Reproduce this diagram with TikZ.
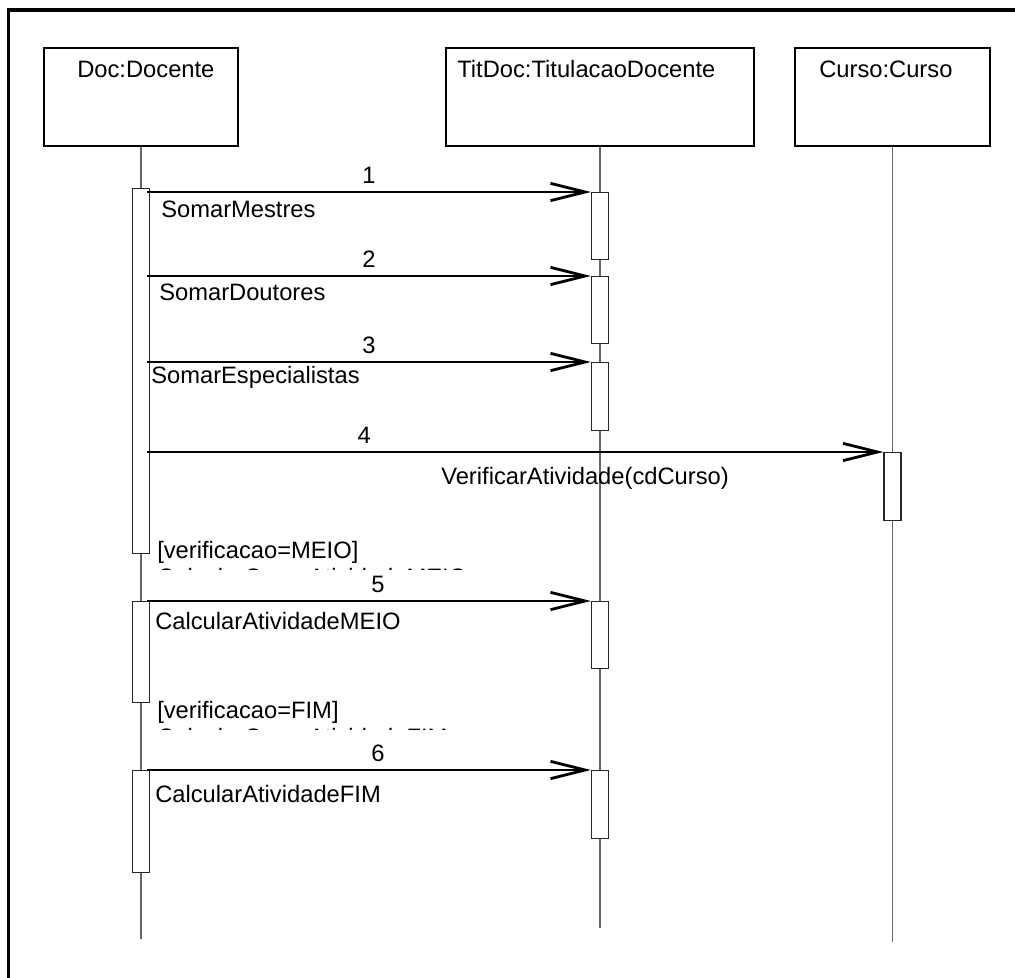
\documentclass[tikz,border=0pt]{standalone}
\usepackage{fontspec}
\setmainfont{Liberation Sans}
\usetikzlibrary{arrows.meta}
\begin{document}
\begin{tikzpicture}[x=0.75pt,y=-0.75pt,
  every node/.style={font=\fontsize{17.8pt}{21pt}\selectfont, inner sep=0pt},
  headbox/.style={draw=black, line width=0.8pt, fill=white, minimum height=73.5pt},
  actbar/.style={draw=black!85, line width=0.8pt, fill=white, minimum width=12.75pt, anchor=north},
  life/.style={draw=black!60, line width=1.1pt},
  msg/.style={draw=black, line width=1.5pt,
    -{Straight Barb[length=26pt, width=13pt, line width=2.1pt]}},
  txt/.style={anchor=base west},
  num/.style={anchor=base, yshift=6.75pt},
  frame/.style={draw=black, line width=2.4pt}]
\useasboundingbox (0,0) rectangle (1015,978);
\fill[white] (0,0) rectangle (1015,978);
% outer frame (only left and top edges fall inside the sheet)
\draw[frame] (8.5,990) -- (8.5,10) -- (1030,10);

% object heads
\node[headbox, minimum width=145.5pt] (doc) at (141,97) {};
\node[headbox, minimum width=231pt] (tit) at (600,97) {};
\node[headbox, minimum width=146.25pt] (cur) at (892.5,97) {};
\node[txt] (docname) at (77,77) {Doc:Docente};
\node[txt] (titname) at (457,77) {TitDoc:TitulacaoDocente};
\node[txt] (curname) at (819,77) {Curso:Curso};

% lifelines
\coordinate (docend) at (141,939);
\coordinate (titend) at (600,928);
\coordinate (curend) at (892.5,942);
\draw[life] (doc.south) -- (docend);
\draw[life] (tit.south) -- (titend);
\draw[life] (cur.south) -- (curend);

% activation bars
\node[actbar, minimum height={365*0.75pt}] (dbar1) at (141,188) {};
\node[actbar, minimum height={101*0.75pt}] (dbar2) at (141,601) {};
\node[actbar, minimum height={102*0.75pt}] (dbar3) at (141,770) {};
\node[actbar, minimum height={67*0.75pt}] (tbar1) at (600,192) {};
\node[actbar, minimum height={67*0.75pt}] (tbar2) at (600,276) {};
\node[actbar, minimum height={68*0.75pt}] (tbar3) at (600,362) {};
\node[actbar, minimum height={67*0.75pt}] (tbar4) at (600,601) {};
\node[actbar, minimum height={68*0.75pt}] (tbar5) at (600,770) {};
\node[actbar, minimum height={68*0.75pt}] (cbar) at (892.5,452) {};

% messages
\draw[msg] ([xshift=-2.25pt]tbar1.north west -| dbar1.east) -- node[num, pos=0.5] (n1) {1} (tbar1.north west);
\draw[msg] ([xshift=-2.25pt]tbar2.north west -| dbar1.east) -- node[num, pos=0.5] (n2) {2} (tbar2.north west);
\draw[msg] ([xshift=-2.25pt]tbar3.north west -| dbar1.east) -- node[num, pos=0.5] (n3) {3} (tbar3.north west);
\draw[msg] ([xshift=-2.25pt]cbar.north west -| dbar1.east) -- node[num, pos=0.295] (n4) {4} (cbar.north west);
\draw[msg] ([xshift=-2.25pt]dbar2.north east) -- node[num, pos=0.52] (n5) {5} (tbar4.north west);
\draw[msg] ([xshift=-2.25pt]dbar3.north east) -- node[num, pos=0.52] (n6) {6} (tbar5.north west);

\node[txt] (m1) at (161,217) {SomarMestres};
\node[txt] (m2) at (159,300) {SomarDoutores};
\node[txt] (m3) at (151,383) {SomarEspecialistas};
\node[txt] (m4) at (441,484) {VerificarAtividade(cdCurso)};
\node[txt] (m5) at (155,629) {CalcularAtividadeMEIO};
\node[txt] (m6) at (155,802) {CalcularAtividadeFIM};

% guard conditions; their second line is cut off by the text box
\node[txt] (g5) at (157,558) {[verificacao=MEIO]};
\begin{scope}
  \clip (145,560) rectangle (520,569);
  \node[txt] (g5b) at (157,585.5) {CalcularCargaAtividadeMEIO};
\end{scope}
\node[txt] (g6) at (157,718) {[verificacao=FIM]};
\begin{scope}
  \clip (145,720) rectangle (520,729);
  \node[txt] (g6b) at (157,745.5) {CalcularCargaAtividadeFIM};
\end{scope}
\end{tikzpicture}
\end{document}
